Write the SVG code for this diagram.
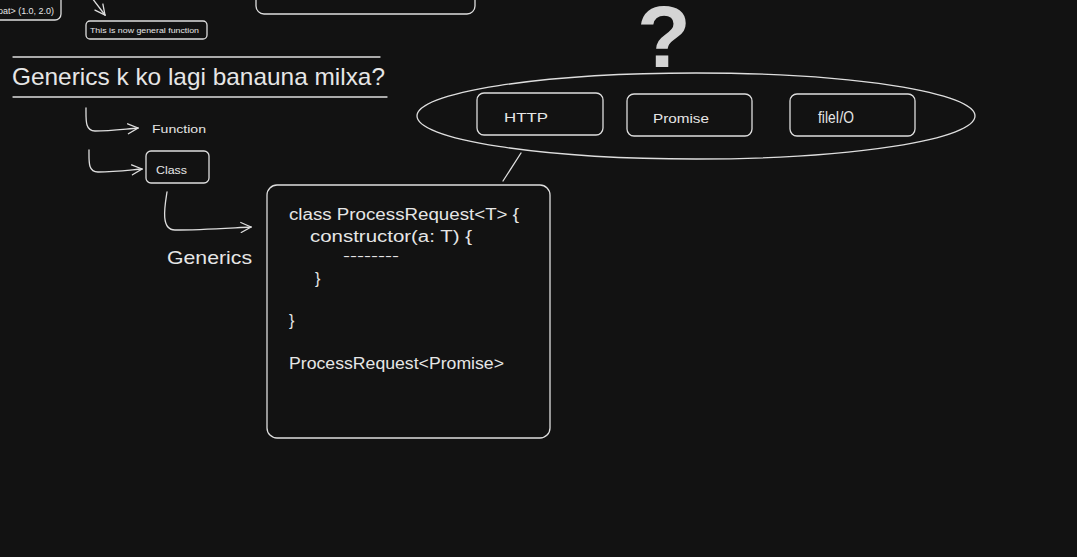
<svg xmlns="http://www.w3.org/2000/svg" width="1077" height="557" viewBox="0 0 1077 557">
<defs>
<style>
.bg{fill:#121212}
.box{fill:none;stroke:#dedede;stroke-width:1.3}
.ln{fill:none;stroke:#dedede;stroke-width:1.3;stroke-linecap:round}
.t{fill:#e6e6e6;font-family:"Liberation Sans","DejaVu Sans",sans-serif}
</style>
<marker id="ah" viewBox="0 0 12 12" refX="11" refY="6" markerWidth="12" markerHeight="12" markerUnits="userSpaceOnUse" orient="auto">
<path d="M1,1 L11,6 L1,11" fill="none" stroke="#dedede" stroke-width="1.3" stroke-linecap="round"/>
</marker>
</defs>
<rect class="bg" x="0" y="0" width="1077" height="557"/>

<g id="top-left-box">
<rect class="box" x="-20" y="-20" width="81" height="40" rx="6"/>
<text class="t" x="-2" y="14" font-size="8.5" textLength="56" lengthAdjust="spacingAndGlyphs">oat&gt; (1.0, 2.0)</text>
</g>
<g id="general-function">
<rect class="box" x="86" y="21" width="121" height="18" rx="4"/>
<text class="t" x="90" y="33" font-size="7.5" textLength="109" lengthAdjust="spacingAndGlyphs">This is now general function</text>
</g>
<g id="top-box">
<rect class="box" x="256" y="-20" width="219" height="34" rx="8"/>
</g>
<g id="title">
<line class="ln" x1="13" y1="57" x2="380" y2="57"/>
<text class="t" x="12" y="85" font-size="24" textLength="373" lengthAdjust="spacingAndGlyphs">Generics k ko lagi banauna milxa?</text>
<line class="ln" x1="13" y1="97" x2="387" y2="97"/>
</g>
<g id="question">
<text x="664" y="67" font-size="88" font-weight="bold" text-anchor="middle" fill="#d4d4d4" font-family="Liberation Sans, sans-serif">?</text>
</g>
<g id="function-label">
<text class="t" x="152" y="133" font-size="11" textLength="54" lengthAdjust="spacingAndGlyphs">Function</text>
</g>
<g id="class-node">
<rect class="box" x="146" y="151" width="63" height="32" rx="5"/>
<text class="t" x="156" y="174" font-size="11" textLength="31" lengthAdjust="spacingAndGlyphs">Class</text>
</g>
<g id="generics-label">
<text class="t" x="167" y="264" font-size="19" textLength="85" lengthAdjust="spacingAndGlyphs">Generics</text>
</g>
<g id="code-box">
<rect class="box" x="267" y="185" width="283" height="253" rx="10"/>
<text class="t" x="289" y="220" font-size="16" textLength="230" lengthAdjust="spacingAndGlyphs">class ProcessRequest&lt;T&gt; {</text>
<text class="t" x="310" y="242" font-size="16" textLength="162" lengthAdjust="spacingAndGlyphs">constructor(a: T) {</text>
<text class="t" x="343" y="260" font-size="12" textLength="56" lengthAdjust="spacingAndGlyphs">--------</text>
<text class="t" x="315" y="284" font-size="16">}</text>
<text class="t" x="289" y="326" font-size="16">}</text>
<text class="t" x="289" y="369" font-size="16" textLength="215" lengthAdjust="spacingAndGlyphs">ProcessRequest&lt;Promise&gt;</text>
</g>
<g id="ellipse-group">
<ellipse class="box" cx="696" cy="116" rx="279" ry="43"/>
</g>
<g id="http">
<rect class="box" x="477" y="93" width="126" height="42" rx="7"/>
<text class="t" x="504" y="122" font-size="13" textLength="44" lengthAdjust="spacingAndGlyphs">HTTP</text>
</g>
<g id="promise">
<rect class="box" x="627" y="94" width="125" height="42" rx="7"/>
<text class="t" x="653" y="123" font-size="13" textLength="56" lengthAdjust="spacingAndGlyphs">Promise</text>
</g>
<g id="fileio">
<rect class="box" x="790" y="94" width="125" height="42" rx="7"/>
<text class="t" x="818" y="123" font-size="17" textLength="36" lengthAdjust="spacingAndGlyphs">fileI/O</text>
</g>
<g id="connectors">
<path class="ln" d="M92,-2 L105,15" marker-end="url(#ah)"/>
<path class="ln" d="M86,108 C86,120 85,131 95,131 C110,131 125,129 138,128" marker-end="url(#ah)"/>
<path class="ln" d="M89,150 C89,162 88,172 98,172 C115,172 130,170 142,169" marker-end="url(#ah)"/>
<path class="ln" d="M167,192 C165,205 160,230 175,230 C200,230 230,228 251,227" marker-end="url(#ah)"/>
<path class="ln" d="M521,153 L503,181"/>
</g>
</svg>
